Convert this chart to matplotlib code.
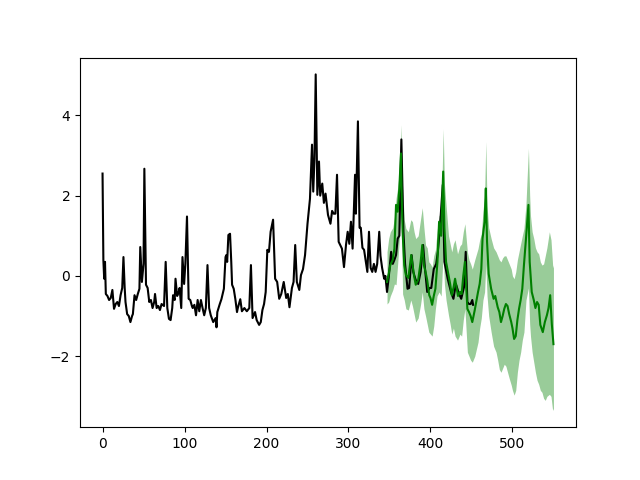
import matplotlib
matplotlib.use("Agg")
import matplotlib.pyplot as plt

# observed series (black)
obs_x = [0, 1, 2, 3, 4, 6, 8, 10, 12, 14, 16, 18, 20, 22, 24, 25.5, 27, 28, 30, 32,
         34, 36, 37, 39, 41, 43, 45, 46, 48, 50, 51, 53, 55, 57, 59, 61, 63, 64, 66, 68,
         70, 72, 75, 77, 79, 81, 83, 85, 86, 88, 89, 91, 93, 94, 96, 97.5, 99.5, 101, 103, 105,
         107, 109, 110, 112, 114, 116, 118, 120, 122, 124, 126, 128, 130, 132, 135, 138, 139, 140, 143, 145,
         148, 150, 151, 152, 153.5, 155.5, 157, 158, 160, 162, 164, 165, 168, 170, 173, 176, 179, 181, 183, 186,
         188, 191, 193, 195, 197, 199, 201, 203, 205, 208, 210.5, 213, 215.5, 218, 221, 224, 226, 228, 231, 233,
         235, 237, 240, 242, 244.5, 247, 250, 253, 255.5, 257, 258.5, 260, 262, 264, 265.5, 268, 270, 272, 275, 278,
         280, 282, 284, 286, 288, 292, 294.5, 297, 299, 301, 303, 305, 308, 309, 311.5, 313.5, 315, 317, 319, 321.5,
         323, 325, 327, 329, 331, 333, 335, 337.5, 339, 341, 343.5, 345, 347, 349, 352, 354, 356, 358, 360, 362,
         364.5, 367, 369, 372, 374, 377, 379, 382, 385, 388, 391, 393, 396, 399, 401, 404, 407, 409, 412, 415,
         417, 421, 425, 428, 431, 434, 437.5, 441, 443, 445, 447, 449, 451, 452]
obs_y = [2.55, 0.4, -0.07, 0.35, -0.45, -0.5, -0.6, -0.55, -0.35, -0.82, -0.7, -0.65, -0.75, -0.48, -0.3, 0.47, -0.3, -0.65, -0.95, -1.0,
         -1.15, -1.0, -0.95, -0.48, -0.6, -0.45, -0.32, 0.72, -0.15, 0.3, 2.67, -0.22, -0.3, -0.65, -0.6, -0.8, -0.65, -0.45, -0.8, -0.75,
         -0.85, -0.7, -0.75, 0.35, -0.8, -1.07, -1.1, -0.8, -0.48, -0.6, -0.07, -0.5, -0.4, -0.3, -0.8, 0.47, -0.2, 0.3, 1.48, -0.57,
         -0.6, -0.75, -0.8, -0.72, -0.98, -0.6, -0.88, -0.6, -0.8, -0.98, -0.8, 0.27, -0.8, -0.98, -1.15, -1.05, -1.28, -0.9, -0.7, -0.58,
         -0.32, 0.47, 0.52, 0.35, 1.02, 1.05, 0.35, -0.22, -0.32, -0.58, -0.9, -0.8, -0.58, -0.88, -0.8, -0.88, -0.8, 0.27, -1.05, -0.9,
         -1.1, -1.22, -1.15, -0.85, -0.7, -0.4, 0.65, 0.6, 1.1, 1.4, -0.07, -0.15, -0.57, -0.45, -0.15, -0.55, -0.45, -0.78, -0.3, -0.15,
         0.77, -0.15, -0.35, 0.02, 0.17, 0.52, 1.3, 1.92, 3.27, 2.1, 2.92, 5.02, 2.02, 2.85, 2.0, 2.3, 1.82, 2.05, 1.52, 1.3,
         1.62, 1.55, 1.55, 2.52, 0.85, 0.68, 0.22, 0.78, 1.1, 0.8, 1.35, 0.68, 2.52, 1.55, 3.85, 1.2, 1.2, 0.7, 0.65, 0.3,
         0.1, 1.1, 0.2, 0.1, 0.3, 0.1, 0.3, 1.1, 0.5, 0.2, -0.07, 0.0, -0.4, -0.05, 0.6, 0.3, 0.4, 0.52, 0.93, 1.0,
         3.4, 1.1, 0.3, -0.32, -0.3, 0.52, 0.1, -0.1, -0.2, 0.1, 0.77, 0.25, -0.4, -0.3, -0.3, 0.17, 0.3, 0.6, 1.35, 2.27,
         0.35, -0.07, -0.4, -0.57, -0.2, -0.4, -0.57, -0.27, 0.6, -0.65, -0.7, -0.7, -0.6, -0.72]

# forecast mean (green)
fc_x = [347, 349, 351, 354, 356, 358, 360, 362, 364, 365, 366, 368, 370, 373, 376.5, 378, 380, 382, 385, 388,
        390, 392, 394, 396, 398.5, 400, 402, 404, 406, 408.5, 410.5, 413, 415.5, 417, 419, 422, 424, 426, 428, 430,
        433.5, 436, 438, 440, 442, 445, 447, 449, 451, 454, 458, 460, 462, 463.5, 466, 467.5, 469, 471, 474, 477,
        479, 482, 484, 486, 488, 490, 492, 494, 496, 498.5, 500, 502, 504, 506, 508, 510, 512, 514, 516.5, 519.5,
        521, 523.5, 526, 528, 530, 532, 534, 537, 539.5, 542, 544, 546, 548, 550]
fc_y = [-0.15, 0.05, 0.27, 0.4, 0.68, 1.77, 1.6, 2.18, 3.05, 1.9, 1.1, 0.27, 0.02, -0.05, 0.52, 0.3, 0.0, -0.22, -0.1, 0.35,
        0.77, 0.27, 0.1, -0.1, -0.48, -0.55, -0.72, -0.5, -0.32, 0.35, 1.35, 1.0, 2.6, 1.2, 0.35, 0.02, -0.2, -0.48, -0.3, -0.07,
        -0.5, -0.4, -0.45, 0.0, 0.35, -0.82, -0.9, -1.0, -1.15, -0.85, -0.4, -0.2, 0.17, 0.93, 1.35, 2.18, 0.85, 0.05, -0.32, -0.57,
        -0.5, -0.78, -0.9, -1.15, -1.0, -0.82, -0.7, -0.75, -0.95, -1.15, -1.3, -1.57, -1.5, -1.1, -0.82, -0.6, -0.32, 0.27, 0.93, 1.77,
        0.35, -0.4, -0.6, -0.8, -0.65, -0.72, -1.22, -1.4, -1.15, -0.98, -0.8, -0.48, -1.2, -1.7]

# forecast interval
band_x = [347, 349, 351, 354, 356, 358, 360, 362, 364, 365, 366, 368, 370, 373, 376, 378, 380, 382, 385, 388,
          390, 392, 394, 396, 398, 400, 402, 404, 406, 408, 410.5, 413, 415.5, 417, 419, 422, 424, 426, 428, 430,
          433, 436, 438, 440, 442, 445, 447, 449, 451, 454, 458, 460, 462, 464, 466, 467.5, 469, 471, 474, 477,
          480, 482, 484, 486, 488, 490, 492, 494, 496, 498.5, 500, 502, 504, 506, 508, 510, 512, 514, 516.5, 519.5,
          521, 522, 524, 526, 528, 530, 532, 534, 536, 538, 540, 542, 545, 547, 549, 550]
band_hi = [0.6, 0.93, 1.1, 1.2, 1.45, 1.93, 2.2, 2.6, 3.77, 2.6, 2.2, 1.4, 1.18, 1.1, 1.4, 1.35, 1.1, 0.93, 1.0, 1.43,
           1.7, 1.2, 0.77, 0.7, 0.35, 0.3, 0.22, 0.5, 0.65, 1.1, 1.52, 1.4, 3.67, 2.3, 1.77, 1.0, 0.8, 0.6, 0.8, 0.9,
           0.55, 0.75, 0.8, 1.1, 1.3, 0.6, 0.4, 0.3, 0.17, 0.4, 0.68, 0.9, 1.05, 1.6, 2.02, 3.35, 1.75, 1.2, 0.93, 0.7,
           0.6, 0.5, 0.4, 0.35, 0.45, 0.5, 0.5, 0.4, 0.3, 0.17, 0.0, -0.07, 0.1, 0.4, 0.6, 0.8, 1.0, 1.18, 1.8, 3.18,
           2.0, 1.5, 1.1, 0.93, 0.7, 0.6, 0.55, 0.35, 0.27, 0.3, 0.5, 0.7, 1.1, 0.9, 0.27, 0.2]
band_lo = [-0.7, -0.65, -0.5, -0.35, -0.2, -0.22, 0.3, 0.9, 1.5, 0.8, -0.45, -0.6, -0.82, -0.85, -0.6, -0.75, -0.95, -1.15, -1.05, -0.7,
           -0.4, -0.82, -1.0, -1.2, -1.4, -1.45, -1.5, -1.25, -0.82, -0.5, -0.4, -0.5, 0.6, -0.2, -0.6, -0.98, -1.2, -1.45, -1.3, -1.5,
           -1.6, -1.45, -1.5, -1.1, -0.82, -1.9, -2.0, -2.1, -2.15, -2.0, -1.65, -1.3, -1.05, -0.6, -0.4, 0.3, -0.5, -1.0, -1.4, -1.75,
           -1.9, -2.1, -2.33, -2.4, -2.3, -2.2, -2.25, -2.4, -2.55, -2.72, -2.85, -2.97, -2.85, -2.4, -2.1, -1.9, -1.6, -1.4, -0.6, -0.3,
           -1.2, -1.5, -1.9, -2.15, -2.4, -2.6, -2.7, -2.85, -2.9, -3.05, -3.1, -3.0, -2.95, -3.0, -3.35, -3.3]

fig, ax = plt.subplots(figsize=(6.4, 4.8), dpi=100)
ax.plot(obs_x, obs_y, color="k", lw=1.5)
ax.fill_between(band_x, band_lo, band_hi, color="g", alpha=0.4, lw=0)
ax.plot(fc_x, fc_y, color="g", lw=1.5)
fig.savefig("out.png")
